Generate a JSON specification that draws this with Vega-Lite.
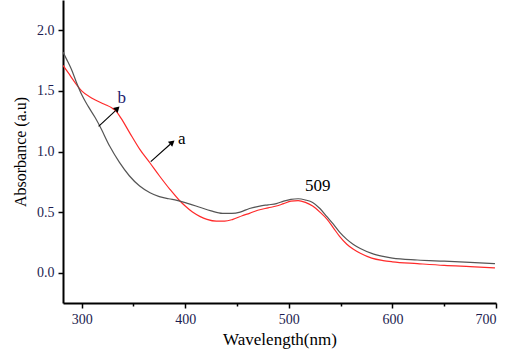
{
  "$schema": "https://vega.github.io/schema/vega-lite/v6.json",
  "width": 433,
  "height": 303,
  "autosize": "none",
  "padding": {"left": 63, "top": 0, "right": 11, "bottom": 49},
  "background": "white",
  "config": {"view": {"stroke": null}},
  "datasets": {
    "curves": [
      {"s":"a","w":282,"A":1.71},{"s":"a","w":287,"A":1.65},{"s":"a","w":293.5,"A":1.57},{"s":"a","w":300,"A":1.50},{"s":"a","w":310,"A":1.44},{"s":"a","w":322,"A":1.39},{"s":"a","w":329,"A":1.36},{"s":"a","w":333,"A":1.335},{"s":"a","w":338,"A":1.275},{"s":"a","w":346,"A":1.16},{"s":"a","w":356,"A":1.02},{"s":"a","w":366,"A":0.905},{"s":"a","w":375,"A":0.80},{"s":"a","w":385,"A":0.69},{"s":"a","w":394,"A":0.60},{"s":"a","w":400,"A":0.55},{"s":"a","w":407,"A":0.50},{"s":"a","w":414,"A":0.465},{"s":"a","w":421,"A":0.44},{"s":"a","w":430,"A":0.425},{"s":"a","w":438,"A":0.425},{"s":"a","w":446,"A":0.44},{"s":"a","w":455,"A":0.47},{"s":"a","w":462,"A":0.49},{"s":"a","w":470,"A":0.515},{"s":"a","w":480,"A":0.535},{"s":"a","w":488,"A":0.55},{"s":"a","w":495,"A":0.57},{"s":"a","w":502,"A":0.59},{"s":"a","w":509,"A":0.595},{"s":"a","w":516,"A":0.58},{"s":"a","w":523,"A":0.55},{"s":"a","w":530,"A":0.50},{"s":"a","w":537,"A":0.44},{"s":"a","w":543,"A":0.37},{"s":"a","w":549,"A":0.30},{"s":"a","w":556,"A":0.235},{"s":"a","w":562,"A":0.195},{"s":"a","w":569,"A":0.16},{"s":"a","w":580,"A":0.12},{"s":"a","w":591,"A":0.10},{"s":"a","w":600,"A":0.09},{"s":"a","w":624,"A":0.075},{"s":"a","w":650,"A":0.06},{"s":"a","w":675,"A":0.05},{"s":"a","w":699,"A":0.04},
      {"s":"b","w":282,"A":1.82},{"s":"b","w":285.5,"A":1.76},{"s":"b","w":290,"A":1.68},{"s":"b","w":295,"A":1.57},{"s":"b","w":300,"A":1.47},{"s":"b","w":306.5,"A":1.37},{"s":"b","w":313,"A":1.28},{"s":"b","w":317.5,"A":1.21},{"s":"b","w":327,"A":1.045},{"s":"b","w":336.5,"A":0.91},{"s":"b","w":346,"A":0.80},{"s":"b","w":356,"A":0.715},{"s":"b","w":366,"A":0.66},{"s":"b","w":375,"A":0.628},{"s":"b","w":384,"A":0.61},{"s":"b","w":392,"A":0.597},{"s":"b","w":403,"A":0.57},{"s":"b","w":414,"A":0.54},{"s":"b","w":425,"A":0.51},{"s":"b","w":436,"A":0.49},{"s":"b","w":445,"A":0.49},{"s":"b","w":453,"A":0.50},{"s":"b","w":462,"A":0.53},{"s":"b","w":472,"A":0.55},{"s":"b","w":480,"A":0.56},{"s":"b","w":488,"A":0.57},{"s":"b","w":495,"A":0.59},{"s":"b","w":502,"A":0.605},{"s":"b","w":509,"A":0.61},{"s":"b","w":516,"A":0.60},{"s":"b","w":523,"A":0.58},{"s":"b","w":530,"A":0.53},{"s":"b","w":537,"A":0.46},{"s":"b","w":543,"A":0.40},{"s":"b","w":549,"A":0.335},{"s":"b","w":556,"A":0.275},{"s":"b","w":562,"A":0.235},{"s":"b","w":569,"A":0.20},{"s":"b","w":580,"A":0.16},{"s":"b","w":591,"A":0.135},{"s":"b","w":600,"A":0.12},{"s":"b","w":624,"A":0.105},{"s":"b","w":650,"A":0.095},{"s":"b","w":675,"A":0.085},{"s":"b","w":699,"A":0.075}
    ],
    "arrows": [
      {"id":"b","w1":316.4,"A1":1.207,"w2":332.5,"A2":1.335,"wt":334.5,"At":1.355,"ang":46},
      {"id":"a","w1":366.7,"A1":0.917,"w2":385.5,"A2":1.06,"wt":387.5,"At":1.075,"ang":50}
    ],
    "labels": [
      {"t":"b","w":338.6,"A":1.445,"c":"#1c1c6e"},
      {"t":"a","w":396.6,"A":1.10,"c":"#000000"},
      {"t":"509","w":528,"A":0.715,"c":"#000000"}
    ]
  },
  "layer": [
    {
      "data": {"name": "curves"},
      "mark": {"type": "line", "strokeWidth": 1.2, "clip": true, "interpolate": "monotone"},
      "encoding": {
        "x": {"field": "w", "type": "quantitative", "scale": {"domain": [282, 700], "nice": false, "zero": false},
          "axis": {"values": [300, 350, 400, 450, 500, 550, 600, 650, 700], "labelExpr": "datum.value % 100 === 0 ? datum.label : ''", "ticks": true, "tickSize": {"condition": {"test": "datum.value % 100 === 0", "value": 5}, "value": 3}, "title": "Wavelength(nm)", "grid": false, "domainColor": "#000000", "domainWidth": 2, "tickColor": "#000000", "tickWidth": 1.5, "labelFont": "Liberation Serif", "labelFontSize": 14, "labelColor": "#1c1c50", "labelPadding": 4, "titleFont": "Liberation Serif", "titleFontSize": 17, "titleFontWeight": "normal", "titleColor": "#000000", "titlePadding": 5}},
        "y": {"field": "A", "type": "quantitative", "scale": {"domain": [-0.25, 2.25], "nice": false, "zero": false},
          "axis": {"values": [0, 0.25, 0.5, 0.75, 1, 1.25, 1.5, 1.75, 2], "labelExpr": "(datum.value * 2) % 1 === 0 ? format(datum.value, '.1f') : ''", "ticks": true, "tickSize": {"condition": {"test": "(datum.value * 2) % 1 === 0", "value": 5}, "value": 3}, "title": "Absorbance (a.u)", "grid": false, "domainColor": "#000000", "domainWidth": 2, "tickColor": "#000000", "tickWidth": 1.5, "labelFont": "Liberation Serif", "labelFontSize": 14, "labelColor": "#1c1c50", "labelPadding": 4, "titleFont": "Liberation Serif", "titleFontSize": 16, "titleFontWeight": "normal", "titleColor": "#000000", "titlePadding": 8}},
        "color": {"field": "s", "type": "nominal", "scale": {"domain": ["a", "b"], "range": ["#ff2a2a", "#555555"]}, "legend": null},
        "order": {"field": "w", "type": "quantitative"}
      }
    },
    {
      "data": {"name": "arrows"},
      "mark": {"type": "rule", "color": "#000000", "strokeWidth": 1.1},
      "encoding": {
        "x": {"field": "w1", "type": "quantitative"},
        "y": {"field": "A1", "type": "quantitative"},
        "x2": {"field": "w2"},
        "y2": {"field": "A2"}
      }
    },
    {
      "data": {"name": "arrows"},
      "mark": {"type": "point", "shape": "triangle-up", "filled": true, "color": "#000000", "size": 45, "opacity": 1},
      "encoding": {
        "x": {"field": "wt", "type": "quantitative"},
        "y": {"field": "At", "type": "quantitative"},
        "angle": {"field": "ang", "type": "quantitative", "scale": null}
      }
    },
    {
      "data": {"name": "labels"},
      "mark": {"type": "text", "font": "Liberation Serif", "fontSize": 17, "align": "center", "baseline": "middle"},
      "encoding": {
        "x": {"field": "w", "type": "quantitative"},
        "y": {"field": "A", "type": "quantitative"},
        "text": {"field": "t"},
        "color": {"field": "c", "type": "nominal", "scale": null}
      }
    }
  ]
}
